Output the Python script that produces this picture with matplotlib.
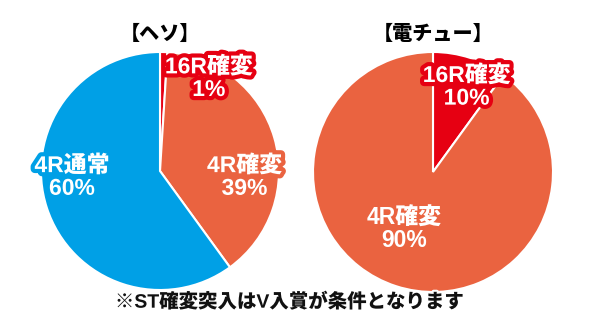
import matplotlib.pyplot as plt
import matplotlib.patheffects as pe

# 英数字は Liberation Sans、かなと漢字は Noto Sans CJK JP
plt.rcParams['font.family'] = ['Liberation Sans', 'Noto Sans CJK JP', 'DejaVu Sans']

# 振り分け（ヘソ / 電チュー）
heso_labels = ['16R確変', '4R確変', '4R通常']
heso_values = [1, 39, 60]
heso_colors = ['#e60012', '#ea6340', '#00a0e6']

den_labels = ['16R確変', '4R確変']
den_values = [10, 90]
den_colors = ['#e60012', '#ea6340']

titles = ['【ヘソ】', '【電チュー】']
note = '※ST確変突入はV入賞が条件となります'

W, H = 592, 328
fig = plt.figure(figsize=(W / 100, H / 100), dpi=100)


def pie_axes(cx, cy, r):
    # 画像ピクセル座標 (中心, 半径) から軸を作る
    return fig.add_axes([(cx - r) / W, (H - cy - r) / H, 2 * r / W, 2 * r / H])


def draw_pie(ax, values, colors, labels, label_pos, stroke):
    ax.pie(values, colors=colors, startangle=90, counterclock=False,
           wedgeprops=dict(edgecolor='white', linewidth=1.5))
    ax.set_xlim(-1, 1)
    ax.set_ylim(-1, 1)
    ax.set_aspect('equal')
    ax.axis('off')
    for lab, v, c, (x, y), s in zip(labels, values, colors, label_pos, stroke):
        effects = [pe.withStroke(linewidth=6, foreground=c)] if s else []
        ax.text(x, y, f'{lab}\n{v}%', ha='center', va='center', color='white',
                fontsize=16.5, fontweight='heavy', linespacing=0.98,
                path_effects=effects, clip_on=False)


ax1 = pie_axes(160, 171, 119)
draw_pie(ax1, heso_values, heso_colors, heso_labels,
         [(0.41, 0.78), (0.71, -0.05), (-0.74, -0.05)], [True, True, True])

ax2 = pie_axes(433, 172, 120)
draw_pie(ax2, den_values, den_colors, den_labels,
         [(0.28, 0.71), (-0.24, -0.48)], [True, False])

fig.text(160 / W, 1 - 34 / H, titles[0], ha='center', va='center',
         fontsize=14.5, fontweight='heavy', color='black')
fig.text(433 / W, 1 - 34 / H, titles[1], ha='center', va='center',
         fontsize=14.5, fontweight='heavy', color='black')
fig.text(290 / W, 1 - 302 / H, note, ha='center', va='center',
         fontsize=14, fontweight='heavy', color='#111111',
         path_effects=[pe.withStroke(linewidth=3, foreground='white')])

fig.savefig('out.png', dpi=100)
